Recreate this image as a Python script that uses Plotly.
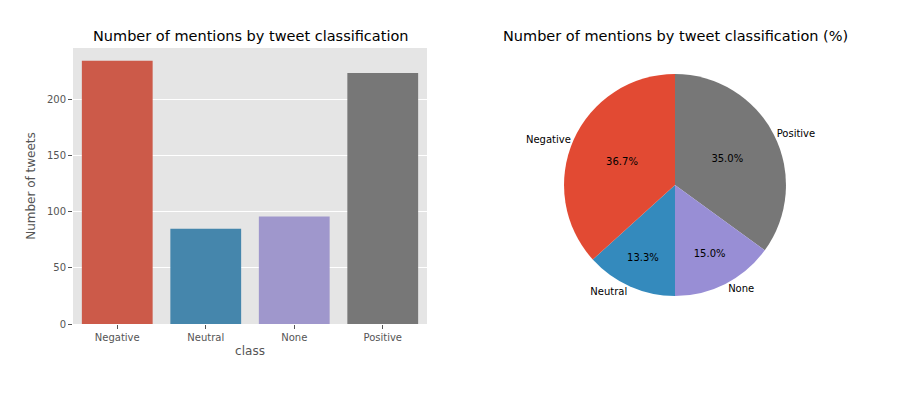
import plotly.graph_objects as go

categories = ["Negative", "Neutral", "None", "Positive"]
counts = [235, 85, 96, 224]
bar_colors = ["#CC5A49", "#4586AC", "#9F97CC", "#777777"]
pie_colors = ["#E24A33", "#348ABD", "#988ED5", "#777777"]
y_ticks = [0, 50, 100, 150, 200]

FONT = "DejaVu Sans"

fig = go.Figure()

fig.add_trace(go.Bar(
    x=categories, y=counts, marker=dict(color=bar_colors, line=dict(width=0)),
    width=0.8, xaxis="x", yaxis="y", showlegend=False,
))

# matplotlib draws the pie counter-clockwise from 12 o'clock; in plotly this is
# the same as drawing the reversed series clockwise from 12 o'clock.
pie_labels = categories[::-1]
pie_values = counts[::-1]
pie_cols = pie_colors[::-1]

pie_dom = dict(x=[0.6267, 0.8733], y=[0.2468, 0.8117])
fig.add_trace(go.Pie(
    labels=pie_labels, values=pie_values, sort=False, direction="clockwise",
    rotation=0, domain=pie_dom, marker=dict(colors=pie_cols, line=dict(width=0)),
    textinfo="percent", texttemplate="%{percent:.1%}", textposition="inside",
    insidetextorientation="horizontal",
    insidetextfont=dict(family=FONT, size=10, color="black"),
    showlegend=False, hoverinfo="label+percent",
))
fig.add_trace(go.Pie(
    labels=pie_labels, values=pie_values, sort=False, direction="clockwise",
    rotation=0, domain=pie_dom,
    marker=dict(colors=["rgba(0,0,0,0)"] * 4, line=dict(width=0)),
    textinfo="label", textposition="outside",
    outsidetextfont=dict(family=FONT, size=10, color="black"),
    showlegend=False, hoverinfo="skip",
))

fig.update_layout(
    width=900, height=398,
    margin=dict(l=0, r=0, t=0, b=0),
    paper_bgcolor="white",
    plot_bgcolor="#E5E5E5",
    font=dict(family=FONT, size=10, color="#555555"),
    bargap=0.2,
    xaxis=dict(
        domain=[73 / 900, 427 / 900], range=[-0.5, 3.5],
        showgrid=False, zeroline=False, showline=False,
        ticks="outside", ticklen=4, tickcolor="#555555",
        tickfont=dict(size=10, color="#555555"),
        title=dict(text="class", font=dict(size=12, color="#555555"), standoff=4),
    ),
    yaxis=dict(
        domain=[1 - 324 / 393, 1 - 48 / 393], range=[0, 246.4],
        tickvals=y_ticks, showgrid=True, gridcolor="white", gridwidth=1,
        zeroline=False, showline=False,
        ticks="outside", ticklen=4, tickcolor="#555555",
        tickfont=dict(size=10, color="#555555"),
        title=dict(text="Number of tweets", font=dict(size=12, color="#555555"), standoff=8),
    ),
    annotations=[
        dict(text="Number of mentions by tweet classification", x=250 / 900, y=1 - 36 / 393,
             xref="paper", yref="paper", showarrow=False, xanchor="center", yanchor="middle",
             font=dict(family=FONT, size=14.5, color="black")),
        dict(text="Number of mentions by tweet classification (%)", x=675 / 900, y=1 - 36 / 393,
             xref="paper", yref="paper", showarrow=False, xanchor="center", yanchor="middle",
             font=dict(family=FONT, size=14.5, color="black")),
    ],
)

fig.write_html("out.html", config={"displayModeBar": False},
               post_script="document.body.style.margin='0';document.body.style.overflow='hidden';")
